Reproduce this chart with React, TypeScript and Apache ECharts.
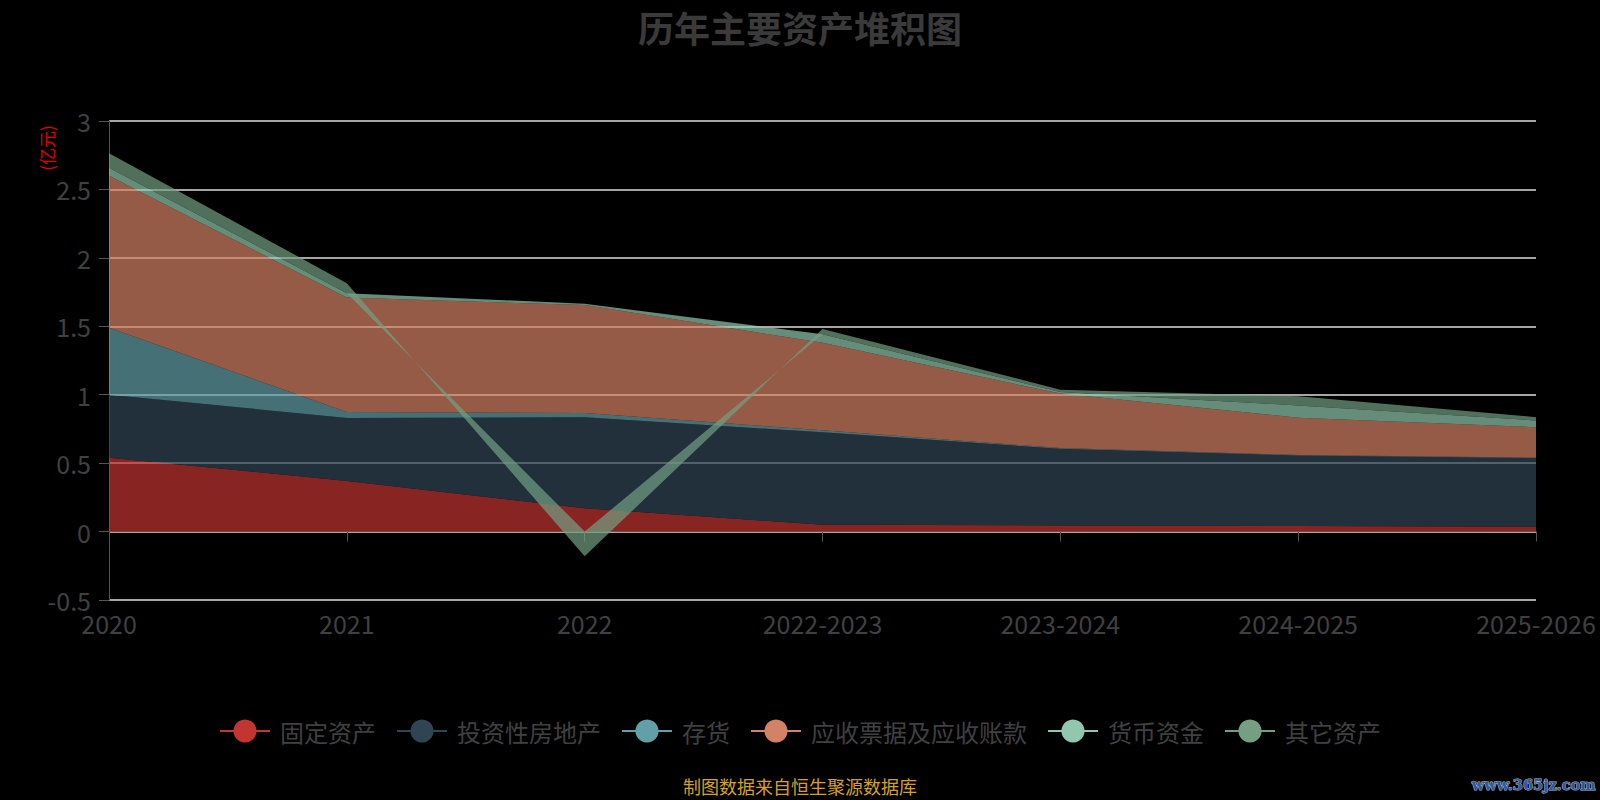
import { useEffect, useRef } from 'react'
import * as echarts from 'echarts'

const categories = ['2020', '2021', '2022', '2022-2023', '2023-2024', '2024-2025', '2025-2026']

const seriesNames = ['固定资产', '投资性房地产', '存货', '应收票据及应收账款', '货币资金', '其它资产']

// 单位：亿元
const fixedAssets = [0.54, 0.37, 0.17, 0.05, 0.045, 0.04, 0.035]
const investProperty = [0.46, 0.46, 0.665, 0.675, 0.56, 0.515, 0.502]
const inventory = [0.49, 0.043, 0.031, 0.015, 0.005, 0.005, 0.003]
const receivables = [1.11, 0.837, 0.789, 0.64, 0.398, 0.272, 0.223]
const cashFunds = [0.059, 0.032, 0.01, 0.061, 0.012, 0.09, 0.049]
const otherAssets = [0.105, 0.073, -0.18, 0.039, 0.017, 0.066, 0.024]

const yTicks = { min: -0.5, max: 3, interval: 0.5 }

const palette = ['#c23531', '#2f4554', '#61a0a8', '#d48265', '#91c7ae', '#749f83']

const fontFamily = '"Noto Sans CJK SC", "Noto Sans", sans-serif'

export default function App() {
  const chartRef = useRef<HTMLDivElement>(null)

  useEffect(() => {
    document.body.style.margin = '0'
    document.body.style.background = '#000'
    document.body.style.overflow = 'hidden'
    if (!chartRef.current) return
    const chart = echarts.init(chartRef.current, null, { renderer: 'svg' })

    const values = [fixedAssets, investProperty, inventory, receivables, cashFunds, otherAssets]

    chart.setOption({
      animation: false,
      backgroundColor: '#000',
      color: palette,
      textStyle: { fontFamily },
      title: {
        text: '历年主要资产堆积图',
        left: 'center',
        top: 4,
        textStyle: { color: '#3a3a3a', fontSize: 36, fontWeight: 'bold', fontFamily },
      },
      legend: {
        bottom: 52,
        left: 'center',
        itemWidth: 50,
        itemHeight: 29,
        itemGap: 20,
        data: seriesNames,
        lineStyle: { width: 2 },
        textStyle: { color: '#404040', fontSize: 24, fontFamily, padding: [0, 0, 0, 5] },
      },
      grid: {
        left: 109,
        right: 64,
        top: 121,
        bottom: 200,
      },
      xAxis: {
        type: 'category',
        boundaryGap: false,
        data: categories,
        axisLine: { lineStyle: { color: '#555', width: 1 } },
        axisTick: { length: 10, lineStyle: { color: '#555' } },
        axisLabel: { color: '#404040', fontSize: 25, margin: 10, fontFamily },
      },
      yAxis: {
        type: 'value',
        min: yTicks.min,
        max: yTicks.max,
        interval: yTicks.interval,
        axisLine: { show: true, lineStyle: { color: '#555', width: 1 } },
        axisTick: { show: true, length: 10, lineStyle: { color: '#555' } },
        axisLabel: { color: '#404040', fontSize: 25, margin: 18, fontFamily },
        splitLine: { lineStyle: { color: '#ddd', width: 1.5 } },
      },
      graphic: [
        {
          type: 'text',
          x: 46,
          y: 148,
          rotation: Math.PI / 2,
          style: {
            text: '(亿元)',
            fill: '#e00000',
            fontSize: 17,
            fontFamily,
            align: 'center',
            verticalAlign: 'middle',
          },
        },
        {
          type: 'text',
          left: 'center',
          top: 777,
          style: {
            text: '制图数据来自恒生聚源数据库',
            fill: '#d4a02a',
            fontSize: 18,
            fontFamily,
          },
        },
        {
          type: 'text',
          right: 4,
          top: 776,
          style: {
            text: 'www.365jz.com',
            fill: '#2a5aa8',
            stroke: '#bbb',
            lineWidth: 1,
            fontSize: 14.5,
            fontWeight: 'bold',
            fontFamily: '"DejaVu Serif", serif',
          },
        },
      ],
      series: seriesNames.map((name, i) => ({
        name,
        type: 'line',
        stack: 'total',
        symbol: 'circle',
        showSymbol: false,
        data: values[i],
        lineStyle: { width: 0 },
        areaStyle: { opacity: 0.7 },
      })),
    })

    return () => {
      chart.dispose()
    }
  }, [])

  return <div ref={chartRef} style={{ width: 1600, height: 800 }} />
}
